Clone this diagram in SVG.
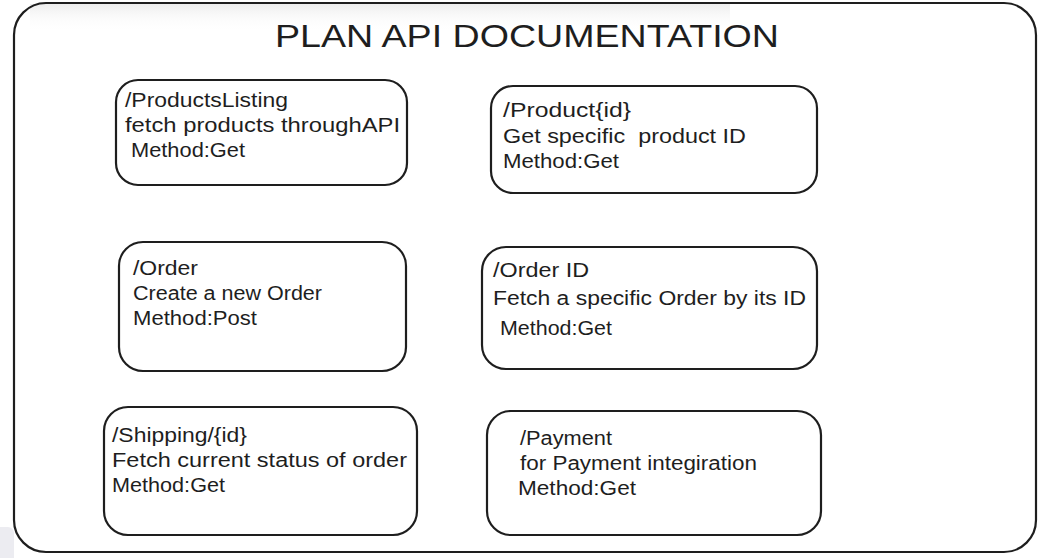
<svg xmlns="http://www.w3.org/2000/svg" width="1049" height="558" viewBox="0 0 1049 558">
  <style>
    .frame { fill: none; stroke: #1e1e1e; stroke-width: 2.2; }
    .box { fill: #ffffff; stroke: #1e1e1e; stroke-width: 2.2; }
    .t { font-family: "Liberation Sans", "DejaVu Sans", sans-serif; font-size: 20px; fill: #1e1e1e; white-space: pre; }
    .title { font-family: "Liberation Sans", "DejaVu Sans", sans-serif; font-size: 31px; fill: #1e1e1e; }
  </style>
  <defs>
    <linearGradient id="topShade" x1="0" y1="0" x2="0" y2="1">
      <stop offset="0" stop-color="#e6e6e6" stop-opacity="0.7"/>
      <stop offset="1" stop-color="#ffffff" stop-opacity="0"/>
    </linearGradient>
  </defs>
  <rect x="0" y="0" width="1049" height="558" fill="#ffffff"/>
  <rect x="30" y="4" width="700" height="28" fill="url(#topShade)"/>
  <rect x="-6" y="527" width="20" height="40" rx="6" fill="#ececf1"/>

  <g id="frame">
    <rect class="frame" x="14" y="3" width="1022" height="549" rx="32"/>
  </g>

  <g id="title">
    <text class="title" x="275" y="47" textLength="504" lengthAdjust="spacingAndGlyphs">PLAN API DOCUMENTATION</text>
  </g>

  <g id="connectors"></g>

  <g id="node-products-listing">
    <rect class="box" x="116" y="80" width="291" height="105" rx="22"/>
    <text class="t" x="125" y="107" textLength="163" lengthAdjust="spacingAndGlyphs">/ProductsListing</text>
    <text class="t" x="125" y="132" textLength="275" lengthAdjust="spacingAndGlyphs">fetch products throughAPI</text>
    <text class="t" x="131" y="157" textLength="114" lengthAdjust="spacingAndGlyphs">Method:Get</text>
  </g>

  <g id="node-product-id">
    <rect class="box" x="491" y="86" width="326" height="107" rx="22"/>
    <text class="t" x="503" y="117" textLength="128" lengthAdjust="spacingAndGlyphs">/Product{id}</text>
    <text class="t" x="503" y="143" textLength="243" lengthAdjust="spacingAndGlyphs" xml:space="preserve">Get specific  product ID</text>
    <text class="t" x="503" y="168" textLength="116" lengthAdjust="spacingAndGlyphs">Method:Get</text>
  </g>

  <g id="node-order">
    <rect class="box" x="119" y="242" width="287" height="129" rx="24"/>
    <text class="t" x="133" y="275" textLength="65" lengthAdjust="spacingAndGlyphs">/Order</text>
    <text class="t" x="133" y="300" textLength="189" lengthAdjust="spacingAndGlyphs">Create a new Order</text>
    <text class="t" x="133" y="325" textLength="124" lengthAdjust="spacingAndGlyphs">Method:Post</text>
  </g>

  <g id="node-order-id">
    <rect class="box" x="482" y="247" width="335" height="122" rx="24"/>
    <text class="t" x="493" y="277" textLength="96" lengthAdjust="spacingAndGlyphs">/Order ID</text>
    <text class="t" x="493" y="305" textLength="313" lengthAdjust="spacingAndGlyphs">Fetch a specific Order by its ID</text>
    <text class="t" x="500" y="335" textLength="112" lengthAdjust="spacingAndGlyphs">Method:Get</text>
  </g>

  <g id="node-shipping">
    <rect class="box" x="104" y="407" width="313" height="128" rx="24"/>
    <text class="t" x="112" y="442" textLength="135" lengthAdjust="spacingAndGlyphs">/Shipping/{id}</text>
    <text class="t" x="112" y="467" textLength="295" lengthAdjust="spacingAndGlyphs">Fetch current status of order</text>
    <text class="t" x="112" y="492" textLength="113" lengthAdjust="spacingAndGlyphs">Method:Get</text>
  </g>

  <g id="node-payment">
    <rect class="box" x="487" y="411" width="334" height="124" rx="24"/>
    <text class="t" x="520" y="445" textLength="92" lengthAdjust="spacingAndGlyphs">/Payment</text>
    <text class="t" x="520" y="470" textLength="237" lengthAdjust="spacingAndGlyphs">for Payment integiration</text>
    <text class="t" x="518" y="495" textLength="118" lengthAdjust="spacingAndGlyphs">Method:Get</text>
  </g>
</svg>
